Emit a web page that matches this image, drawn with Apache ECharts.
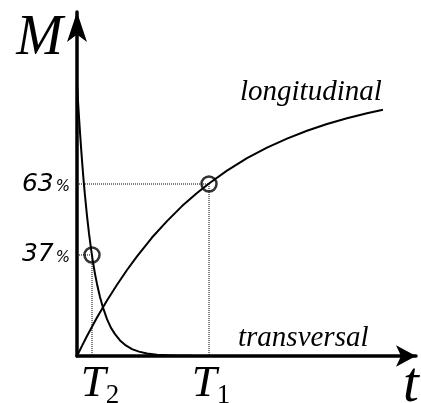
<!DOCTYPE html>
<html>
<head>
<meta charset="utf-8">
<script src="https://cdn.jsdelivr.net/npm/echarts@6/dist/echarts.min.js"></script>
<style>
  html, body { margin: 0; padding: 0; background: #fff; }
  #chart { width: 421px; height: 403px; }
</style>
</head>
<body>
<div id="chart"></div>
<script>
// time axis (same unit for both curves)
const transversalT = [0, 1, 2, 3, 4, 5, 6, 7, 8, 10, 12, 14, 16, 18, 20, 23, 26, 30, 34, 38, 43, 48, 55, 62, 70, 80, 90, 100, 115, 130, 150, 306];
const transversalM = [100, 93.5, 87.5, 81.9, 76.6, 71.7, 67, 62.7, 58.7, 51.3, 44.9, 39.3, 34.4, 30.1, 26.4, 21.6, 17.7, 13.5, 10.3, 8.0, 5.7, 4.1, 2.5, 1.6, 0.9, 0.5, 0.25, 0.13, 0.05, 0.02, 0, 0];

const longitudinalT = [0, 5, 10, 15, 20, 30, 40, 50, 60, 75, 90, 105, 120, 132, 150, 170, 190, 210, 230, 250, 270, 290, 306];
const longitudinalM = [0, 3.7, 7.3, 10.7, 14.1, 20.3, 26.1, 31.5, 36.5, 43.4, 49.4, 54.9, 59.7, 63.2, 67.9, 72.5, 76.3, 79.6, 82.5, 85.0, 87.1, 88.9, 90.2];

// relaxation times T2, T1 and the levels they reach
const relaxT = [15, 132];
const relaxM = [37, 63];
const relaxSub = ["2", "1"];

const chart = echarts.init(document.getElementById("chart"));

const pairs = (xs, ys) => xs.map((x, i) => [x, ys[i]]);
const serif = '"Liberation Serif", "DejaVu Serif", serif';

const option = {
  animation: false,
  grid: { left: 77, top: 12, right: 5, bottom: 47, outerBoundsMode: "none" },
  xAxis: {
    type: "value",
    min: 0,
    max: 339,
    splitLine: { show: false },
    axisTick: { show: false },
    axisLine: {
      symbol: ["none", "arrow"],
      symbolSize: [16, 20],
      lineStyle: { color: "#000", width: 3.5 },
    },
    axisLabel: {
      customValues: relaxT,
      margin: 4,
      formatter: (v) => {
        const i = relaxT.indexOf(v);
        return (i === 0 ? "{a|T}" : "{b|T}") + "{s|" + relaxSub[i] + "}";
      },
      rich: {
        a: { fontFamily: serif, fontStyle: "italic", fontSize: 45, color: "#000", padding: [0, 0, 0, 16] },
        b: { fontFamily: serif, fontStyle: "italic", fontSize: 45, color: "#000", padding: [0, 0, 0, 4] },
        s: { fontFamily: serif, fontSize: 27, color: "#000", padding: [22, 0, 0, 0] },
      },
    },
  },
  yAxis: {
    type: "value",
    min: 0,
    max: 126,
    splitLine: { show: false },
    axisTick: { show: false },
    axisLine: {
      symbol: ["none", "arrow"],
      symbolSize: [15, 30],
      lineStyle: { color: "#000", width: 3.5 },
    },
    axisLabel: {
      customValues: relaxM,
      margin: 7,
      formatter: (v) => "{n|" + v + "}{p|%}",
      rich: {
        n: { fontFamily: "DejaVu Sans", fontStyle: "italic", fontSize: 25, color: "#000" },
        p: { fontFamily: "DejaVu Sans", fontStyle: "italic", fontSize: 15, color: "#000", padding: [6, 0, 0, 2] },
      },
    },
  },
  graphic: [
    { type: "text", style: { text: "M", x: 63, y: 39, textAlign: "right", textVerticalAlign: "middle", font: "italic 56px " + serif, fill: "#000" } },
    { type: "text", style: { text: "t", x: 403, y: 386, textAlign: "left", textVerticalAlign: "middle", font: "italic 57px " + serif, fill: "#000" } },
    { type: "text", style: { text: "longitudinal", x: 240, y: 92, textAlign: "left", textVerticalAlign: "middle", font: "italic 29px " + serif, fill: "#000" } },
    { type: "text", style: { text: "transversal", x: 238, y: 338, textAlign: "left", textVerticalAlign: "middle", font: "italic 29px " + serif, fill: "#000" } },
  ],
  series: [
    {
      name: "transversal",
      type: "line",
      data: pairs(transversalT, transversalM),
      showSymbol: false,
      lineStyle: { color: "#000", width: 2 },
      z: 3,
    },
    {
      name: "longitudinal",
      type: "line",
      data: pairs(longitudinalT, longitudinalM),
      showSymbol: false,
      lineStyle: { color: "#000", width: 2 },
      z: 3,
    },
    // dotted guides from the axes to each marked point
    ...relaxT.map((t, i) => ({
      type: "line",
      data: [[0, relaxM[i]], [t, relaxM[i]], [t, 0]],
      showSymbol: false,
      lineStyle: { color: "#000", width: 1, type: [1, 1] },
      z: 2,
    })),
    {
      type: "scatter",
      data: pairs(relaxT, relaxM),
      symbol: "circle",
      symbolSize: 15,
      itemStyle: { color: "rgba(0,0,0,0)", borderColor: "#000", borderWidth: 2.5 },
      z: 4,
    },
  ],
};

chart.setOption(option);
</script>
</body>
</html>
